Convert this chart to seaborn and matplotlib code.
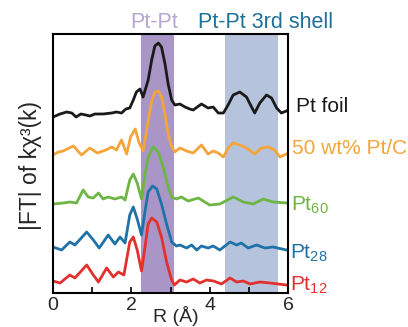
import matplotlib
matplotlib.use("Agg")
import matplotlib.pyplot as plt
import seaborn as sns

# curves; y is in stacked units (0 = axis bottom)
foil_r = [0.00, 0.18, 0.35, 0.48, 0.59, 0.71, 0.84, 0.94, 1.07, 1.28, 1.50, 1.62, 1.75,
          1.86, 1.96, 2.05, 2.13, 2.22, 2.30, 2.43, 2.52, 2.60, 2.69, 2.77, 2.86, 2.94,
          3.03, 3.11, 3.24, 3.37, 3.49, 3.58, 3.79, 3.96, 4.09, 4.22, 4.35, 4.47, 4.60,
          4.77, 4.94, 5.07, 5.15, 5.28, 5.45, 5.58, 5.71, 5.83, 5.96, 6.00]
foil_y = [176, 179, 181, 180, 176, 179, 178, 177, 179, 179, 180, 181, 180,
          184, 185, 193, 201, 204, 196, 213, 233, 247, 250, 246, 229, 209,
          193, 188, 189, 186, 184, 183, 189, 185, 186, 180, 180, 188, 198,
          201, 196, 186, 180, 190, 198, 195, 185, 180, 182, 183]

ptc_r = [0.00, 0.14, 0.26, 0.52, 0.73, 0.94, 1.13, 1.35, 1.50, 1.62, 1.75, 1.88, 1.98,
         2.10, 2.20, 2.30, 2.43, 2.52, 2.60, 2.69, 2.77, 2.86, 2.94, 3.03, 3.11, 3.24,
         3.41, 3.58, 3.79, 3.96, 4.09, 4.22, 4.35, 4.47, 4.60, 4.77, 4.94, 5.15, 5.32,
         5.49, 5.66, 5.79, 5.96, 6.00]
ptc_y = [138, 141, 142, 147, 138, 145, 140, 143, 146, 143, 153, 139, 156,
         164, 150, 142, 172, 192, 201, 202, 196, 179, 159, 146, 141, 145,
         142, 140, 148, 139, 142, 140, 136, 145, 150, 148, 145, 139, 145,
         146, 143, 136, 139, 140]

pt60_r = [0.00, 0.26, 0.43, 0.60, 0.77, 0.90, 1.03, 1.16, 1.28, 1.41, 1.58, 1.75, 1.84,
          1.96, 2.05, 2.15, 2.26, 2.35, 2.43, 2.56, 2.69, 2.81, 2.94, 3.03, 3.15, 3.28,
          3.45, 3.71, 4.00, 4.26, 4.60, 4.86, 5.11, 5.37, 5.62, 5.96, 6.00]
pt60_y = [89, 90, 91, 90, 103, 96, 95, 100, 94, 96, 94, 96, 93,
          113, 119, 110, 94, 119, 136, 146, 141, 126, 106, 96, 94, 96,
          92, 95, 88, 89, 96, 91, 89, 94, 91, 90, 90]

pt28_r = [0.00, 0.22, 0.43, 0.56, 0.86, 1.03, 1.18, 1.41, 1.58, 1.71, 1.84, 1.96, 2.05,
          2.15, 2.26, 2.35, 2.43, 2.54, 2.65, 2.77, 2.90, 3.03, 3.15, 3.24, 3.41, 3.54,
          3.67, 3.79, 3.96, 4.09, 4.26, 4.52, 4.69, 4.81, 4.98, 5.20, 5.41, 5.62, 5.96, 6.00]
pt28_y = [46, 43, 51, 48, 61, 53, 45, 58, 49, 56, 50, 78, 86,
          74, 58, 82, 101, 107, 104, 89, 69, 51, 47, 48, 45, 48,
          43, 47, 45, 47, 43, 51, 48, 50, 45, 48, 45, 46, 43, 43]

pt12_r = [0.00, 0.18, 0.43, 0.56, 0.86, 1.03, 1.16, 1.37, 1.54, 1.67, 1.81, 1.96, 2.05,
          2.15, 2.26, 2.35, 2.43, 2.52, 2.65, 2.77, 2.90, 3.03, 3.10, 3.24, 3.41, 3.58,
          3.75, 3.92, 4.10, 4.30, 4.52, 4.69, 4.86, 5.03, 5.28, 5.54, 5.96, 6.00]
pt12_y = [12, 10, 18, 15, 28, 18, 11, 25, 16, 21, 18, 51, 56,
          43, 22, 46, 69, 75, 71, 56, 31, 13, 8, 13, 11, 14,
          10, 13, 12, 9, 15, 11, 12, 9, 11, 10, 8, 8]

series = [
    ("Pt foil", foil_r, foil_y, "#1a1a1a"),
    ("50 wt% Pt/C", ptc_r, ptc_y, "#f4a53a"),
    (r"Pt$_{60}$", pt60_r, pt60_y, "#6db544"),
    (r"Pt$_{28}$", pt28_r, pt28_y, "#1f72a8"),
    (r"Pt$_{12}$", pt12_r, pt12_y, "#e2312d"),
]
label_pos = [(296, 107), (292, 148), (291, 205), (290, 253), (290, 285)]

sns.set_theme(style="white")
plt.rcParams["font.family"] = ["Liberation Sans", "DejaVu Sans"]
plt.rcParams["mathtext.fontset"] = "custom"
plt.rcParams["mathtext.rm"] = "Liberation Sans"
plt.rcParams["mathtext.it"] = "Liberation Sans"

W, H = 408, 327
fig = plt.figure(figsize=(W / 100, H / 100), dpi=100)
ax = fig.add_axes([53 / W, (H - 293) / H, 235 / W, 259 / H])

ax.axvspan(2.24, 3.09, color="#a996c6", lw=0, zorder=0)
ax.axvspan(4.39, 5.74, color="#b5c3dc", lw=0, zorder=0)

for (name, r, y, c), (px, py) in zip(series, label_pos):
    sns.lineplot(x=r, y=y, ax=ax, color=c, linewidth=2.0)
    fig.text(px / W, 1 - py / H, name, color=c, fontsize=15, va="center", ha="left")

ax.set_xlim(0, 6)
ax.set_ylim(0, 259)
ax.set_yticks([])
ax.set_xticks([0, 2, 4, 6])
ax.set_xticks([1, 3, 5], minor=True)
ax.tick_params(axis="x", which="both", direction="in", length=4, width=1.2,
               color="black", labelsize=14, pad=3, bottom=True)
for sp in ax.spines.values():
    sp.set_color("black")
    sp.set_linewidth(1.5)

fig.text(30 / W, 1 - 165 / H, "|FT| of kχ³(k)", rotation=90, fontsize=16.5,
         ha="center", va="center")
fig.text(176 / W, 1 - 326.5 / H, "R (Å)", fontsize=14, ha="center", va="bottom")
fig.text(154 / W, 1 - 23 / H, "Pt-Pt", color="#b5a7d3", fontsize=15.5,
         ha="center", va="center")
fig.text(266 / W, 1 - 23 / H, "Pt-Pt 3rd shell", color="#1f7098", fontsize=15.5,
         ha="center", va="center")

fig.savefig("out.png", dpi=100)
